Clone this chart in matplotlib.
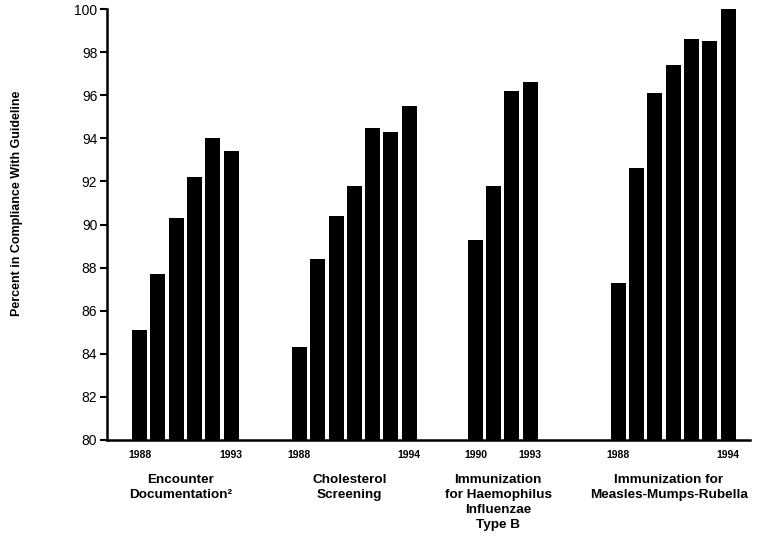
import numpy as np
import matplotlib.pyplot as plt
import matplotlib.transforms as mtransforms

plt.rcParams['font.family'] = ['Liberation Sans', 'DejaVu Sans']

groups = ["Encounter\nDocumentation\u00b2", "Cholesterol\nScreening",
          "Immunization\nfor Haemophilus\nInfluenzae\nType B",
          "Immunization for\nMeasles-Mumps-Rubella"]
first_year = [1988, 1988, 1990, 1988]
encounter = [85.1, 87.7, 90.3, 92.2, 94.0, 93.4]
cholesterol = [84.3, 88.4, 90.4, 91.8, 94.5, 94.3, 95.5]
hib = [89.3, 91.8, 96.2, 96.6]
mmr = [87.3, 92.6, 96.1, 97.4, 98.6, 98.5, 100.0]
series = [encounter, cholesterol, hib, mmr]

# layout: first bar centre of each group (in bar-pitch units)
group_start = [1.78, 10.52, 20.14, 27.95]
bar_w = 0.82

fig = plt.figure(figsize=(7.62, 5.40), dpi=100)
ax = fig.add_axes([0.1404, 0.1852, 0.8436, 0.7981])

trans = mtransforms.blended_transform_factory(ax.transData, ax.transAxes)
for name, vals, x0, y0 in zip(groups, series, group_start, first_year):
    x = x0 + np.arange(len(vals))
    ax.bar(x, np.array(vals) - 80, bottom=80, width=bar_w, color='black')
    ax.text(x[0], -0.035, str(y0), transform=trans, ha='center', va='center',
            fontsize=7.5, fontweight='bold')
    ax.text(x[-1], -0.035, str(y0 + len(vals) - 1), transform=trans,
            ha='center', va='center', fontsize=7.5, fontweight='bold')
    ax.text(x.mean() - 0.25, -0.079, name, transform=trans, ha='center',
            va='top', fontsize=9.7, fontweight='bold', linespacing=1.32)

ax.set_xlim(0, 35.14)
ax.set_ylim(80, 100)
ax.set_yticks(np.arange(80, 101, 2))
ax.set_xticks([])
ax.spines['top'].set_visible(False)
ax.spines['right'].set_visible(False)
ax.spines['left'].set_linewidth(1.8)
ax.spines['bottom'].set_linewidth(1.8)
ax.tick_params(axis='y', length=5, width=1.5, labelsize=10, pad=2)
ax.set_ylabel("Percent in Compliance With Guideline", fontsize=9,
              fontweight='bold')
ax.yaxis.set_label_coords(-0.131, 0.549)

fig.savefig("out.png", dpi=100)
